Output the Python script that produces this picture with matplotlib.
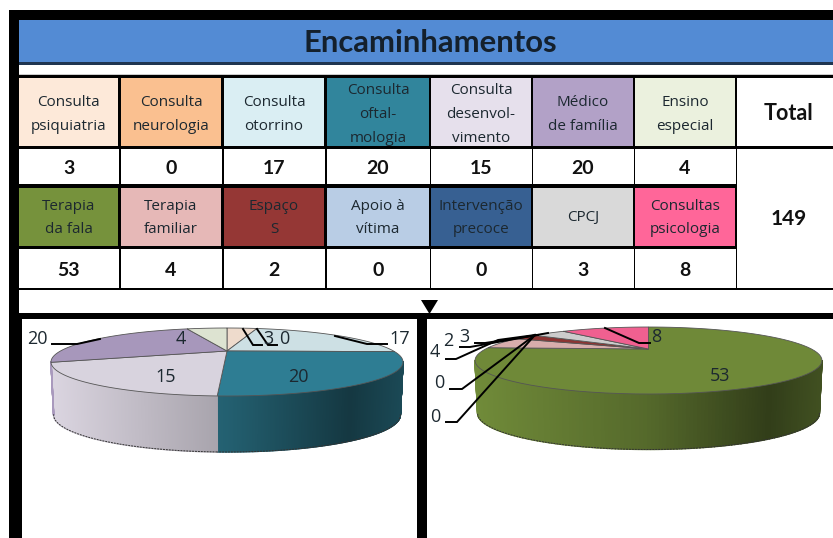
import matplotlib
matplotlib.use("Agg")
import matplotlib.pyplot as plt
from matplotlib.patches import Rectangle, Polygon
import matplotlib.colors as mc
import numpy as np

plt.rcParams['font.family'] = ['Lato', 'DejaVu Sans']

titulo = "Encaminhamentos"
nomes_a = ["Consulta\npsiquiatria", "Consulta\nneurologia", "Consulta\notorrino", "Consulta\noftal-\nmologia",
           "Consulta\ndesenvol-\nvimento", "Médico\nde família", "Ensino\nespecial"]
valores_a = [3, 0, 17, 20, 15, 20, 4]
cores_a = ["#fde9d9", "#fac090", "#daeef3", "#31859c", "#e6e0ec", "#b2a1c7", "#ebf1de"]

nomes_b = ["Terapia\nda fala", "Terapia\nfamiliar", "Espaço\nS", "Apoio à\nvítima",
           "Intervenção\nprecoce", "CPCJ", "Consultas\npsicologia"]
valores_b = [53, 4, 2, 0, 0, 3, 8]
cores_b = ["#76923c", "#e6b8b7", "#953735", "#b9cde5", "#376092", "#d9d9d9", "#ff6699"]

total = sum(valores_a) + sum(valores_b)

# limites das colunas em pixeis
xs = [(19, 118), (121, 221), (224, 324), (327, 429), (431, 531), (533, 633), (635, 735)]
TXT = "#1c2830"

fig = plt.figure(figsize=(8.33, 5.38), dpi=100)
ax = fig.add_axes([0, 0, 1, 1])
ax.set_xlim(0, 833)
ax.set_ylim(538, 0)
ax.axis("off")


def caixa(x0, y0, x1, y1, cor, z=1):
    ax.add_patch(Rectangle((x0, y0), x1 - x0, y1 - y0, fc=cor, ec="none", zorder=z))


def projeta(ang, cx, ay, A, B, k):
    u, v = np.sin(ang), np.cos(ang)
    w = 1 + k * v
    return cx + A * u / w, ay - B * v / w


def pie3d(valores, cores, cx, ay, meia, topo, fundo, base):
    # disco em perspetiva, a comecar em cima e no sentido dos ponteiros
    r = (ay - topo) / (fundo - ay)
    k = (1 - r) / (1 + r)
    B = (ay - topo) * (1 + k)
    A = meia * np.sqrt(1 - k * k)
    B2 = (base - ay - 52) * (1 - k)
    fatias = np.cumsum([0] + valores) / sum(valores) * 2 * np.pi
    fatias_ok = [i for i, v in enumerate(valores) if v > 0]
    # parede lateral, so a parte da frente
    for i in fatias_ok:
        angs = np.linspace(fatias[i], fatias[i + 1], 300)
        angs = angs[np.cos(angs) < -k + 0.02]
        if len(angs) < 2:
            continue
        x1, y1 = projeta(angs, cx, ay, A, B, k)
        x2, y2 = projeta(angs, cx, ay + 52, A * 0.985, B2, k)
        for j in range(len(angs) - 1):
            t = (x1[j] - (cx - meia)) / (2 * meia)
            f = np.interp(t, [0, .5, .85, 1], [.95, .72, .42, .55])
            c = np.array(mc.to_rgb(cores[i])) * f
            ax.add_patch(Polygon([(x1[j], y1[j]), (x1[j + 1], y1[j + 1]), (x2[j + 1], y2[j + 1]), (x2[j], y2[j])],
                                 fc=c, ec=c, lw=1.0, zorder=3))
        ax.plot(x2, y2, color="#333333", lw=0.7, ls=(0, (2, 1)), zorder=3.5)
    # topo
    for i in fatias_ok:
        angs = np.linspace(fatias[i], fatias[i + 1], 80)
        x1, y1 = projeta(angs, cx, ay, A, B, k)
        pts = [(cx, ay)] + list(zip(x1, y1))
        c = np.array(mc.to_rgb(cores[i])) * 0.94
        ax.add_patch(Polygon(pts, fc=c, ec="#555555", lw=0.6, zorder=4))


def guia(pts):
    ax.plot([p[0] for p in pts], [p[1] for p in pts], color="black", lw=1.4, zorder=6, solid_joinstyle="miter")


def rotulo(x, y, v):
    ax.text(x, y, str(v), ha="center", va="center", fontsize=13, color=TXT, zorder=7, family="Open Sans")


def nome(x, y, s):
    linhas = s.split("\n")
    for n, linha in enumerate(linhas):
        yy = y + (n - (len(linhas) - 1) / 2) * 23.5
        ax.text(x, yy, linha, ha="center", va="center", fontsize=11, color=TXT, zorder=5, family="Open Sans")


# moldura e fundos
caixa(9, 10, 833, 538, "black", 0)
caixa(19, 20, 833, 62, "#538bd4")
caixa(19, 62, 833, 65, "#1f3550")
caixa(19, 65, 833, 74, "white")
caixa(19, 74, 833, 75, "#cccccc")
caixa(19, 290, 833, 313, "white")
caixa(22, 319, 417, 538, "white")
caixa(427, 319, 833, 538, "white")
ax.add_patch(Polygon([(421, 300), (438, 300), (429.5, 314)], fc="black", ec="none", zorder=2))

ax.text(430, 43, titulo, ha="center", va="center", fontsize=22.3, fontweight="bold", color="#14202c", zorder=5)

# tabela
for i, (x0, x1) in enumerate(xs):
    caixa(x0, 78, x1, 146, cores_a[i])
    caixa(x0, 187.5, x1, 246, cores_b[i])
    caixa(x0, 149, x1 + 1, 183.5, "white")
    caixa(x0, 249, x1 + 1, 287.5, "white")
    nome((x0 + x1) / 2, 114.5, nomes_a[i])
    nome((x0 + x1) / 2, 218, nomes_b[i])
    ax.text((x0 + x1) / 2, 169, str(valores_a[i]), ha="center", va="center", fontsize=14, fontweight="bold",
            color="#111111", zorder=5)
    ax.text((x0 + x1) / 2, 270, str(valores_b[i]), ha="center", va="center", fontsize=14, fontweight="bold",
            color="#111111", zorder=5)

caixa(737, 78, 833, 146, "white")
caixa(737, 149, 833, 287.5, "white")
ax.text(789, 113.5, "Total", ha="center", va="center", fontsize=15.5, fontweight="bold", color="#111111", zorder=5)
ax.text(789, 219, str(total), ha="center", va="center", fontsize=15, fontweight="bold", color="#111111", zorder=5)

# graficos
pie3d(valores_a, cores_a, 227, 351, 176, 328, 396, 452)
pie3d(valores_b, cores_b, 648.5, 349, 173.5, 327, 394, 449.5)

guia([(52, 344), (77, 344), (100, 339)])
guia([(387, 344), (367, 344), (335, 336)])
guia([(243, 329), (253, 345), (262, 345)])
guia([(257, 329), (268, 345), (277, 345)])
for x, y, v in [(37, 339, valores_a[5]), (181, 339, valores_a[6]), (166, 377, valores_a[4]), (298, 377, valores_a[3]),
                (400, 339, valores_a[2]), (268, 339, valores_a[0]), (284, 339, valores_a[1])]:
    rotulo(x, y, v)

guia([(460, 347), (470, 347), (548, 333)])
guia([(475, 343), (485, 343), (538, 335)])
guia([(446, 359), (456, 359), (498, 340), (535, 335)])
guia([(450, 389), (462, 389), (535, 335)])
guia([(446, 422), (457, 422), (535, 335)])
guia([(605, 328), (639, 343), (650, 343)])
for x, y, v in [(464, 337, valores_b[5]), (448, 341, valores_b[2]), (435, 352, valores_b[1]), (439, 383, valores_b[3]),
                (435, 417, valores_b[4]), (656, 337, valores_b[6]), (720, 376, valores_b[0])]:
    rotulo(x, y, v)

fig.savefig("out.png", dpi=100)
